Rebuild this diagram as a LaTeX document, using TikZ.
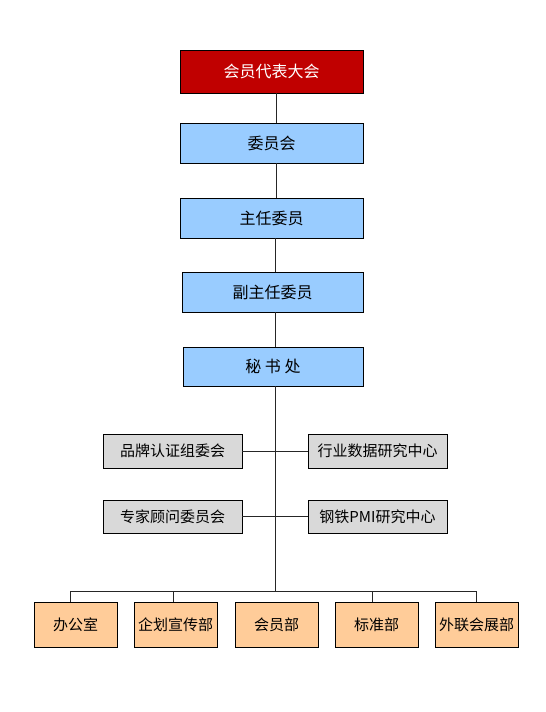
\documentclass[tikz,border=0pt]{standalone}
\usepackage{fontspec}
\newfontfamily\cjk{Noto Sans CJK SC}
\definecolor{darkred}{HTML}{C00000}
\definecolor{lblue}{HTML}{99CCFF}
\definecolor{lgray}{HTML}{D9D9D9}
\definecolor{lorange}{HTML}{FFCC99}
\begin{document}
\begin{tikzpicture}[x=1pt,y=-1pt,
  box/.style={draw=black,line width=0.9pt,inner sep=0pt,font=\cjk\fontsize{15}{15}\selectfont},
  bigtext/.style={font=\cjk\fontsize{16}{16}\selectfont},
  topbox/.style={box,bigtext,fill=darkred,text=white,minimum width=183pt,minimum height=43pt},
  bluebox/.style={box,bigtext,fill=lblue,minimum height=40pt},
  graybox/.style={box,fill=lgray,minimum width=139pt,minimum height=34pt},
  orbox/.style={box,fill=lorange,minimum width=83pt,minimum height=45pt},
  conn/.style={draw=black!85,line width=0.9pt}]
\useasboundingbox (0,0) rectangle (546,712);
\fill[white] (0,0) rectangle (546,712);
\node[topbox] (top) at (271.5,71.5) {会员代表大会};
\node[bluebox,minimum width=183pt] (wyh) at (271.5,143) {委员会};
\node[bluebox,minimum width=183pt] (zr) at (271.5,218) {主任委员};
\node[bluebox,minimum width=181pt] (fzr) at (272.5,292) {副主任委员};
\node[bluebox,minimum width=180pt,minimum height=39pt] (msc) at (273,366.5) {秘 书 处};
\node[graybox] (pp) at (172.5,451) {品牌认证组委会};
\node[graybox] (hy) at (377.5,451) {行业数据研究中心};
\node[graybox,minimum height=33pt] (zj) at (172.5,516.5) {专家顾问委员会};
\node[graybox,minimum height=33pt] (gt) at (377.5,516.5) {钢铁PMI研究中心};
\node[orbox] (b1) at (75.5,624.5) {办公室};
\node[orbox] (b2) at (175.5,624.5) {企划宣传部};
\node[orbox] (b3) at (276.5,624.5) {会员部};
\node[orbox] (b4) at (376.5,624.5) {标准部};
\node[orbox] (b5) at (476.5,624.5) {外联会展部};
\coordinate (bus) at (275,591);
\draw[conn] (top.south -| 276,0) -- (wyh.north -| 276,0);
\draw[conn] (wyh.south -| 276,0) -- (zr.north -| 276,0);
\draw[conn] (zr.south -| 275,0) -- (fzr.north -| 275,0);
\draw[conn] (fzr.south -| 275,0) -- (msc.north -| 275,0);
\draw[conn] (msc.south -| bus) -- (bus);
\draw[conn] (pp.east) -- (hy.west);
\draw[conn] (zj.east) -- (gt.west);
\draw[conn] (b1.north -| 70.5,0) -- (70.5,591) -- (476,591) -- (b5.north -| 476,0);
\draw[conn] (b2.north -| 173,0) -- (173,591);
\draw[conn] (b4.north -| 372.5,0) -- (372.5,591);
\end{tikzpicture}
\end{document}
